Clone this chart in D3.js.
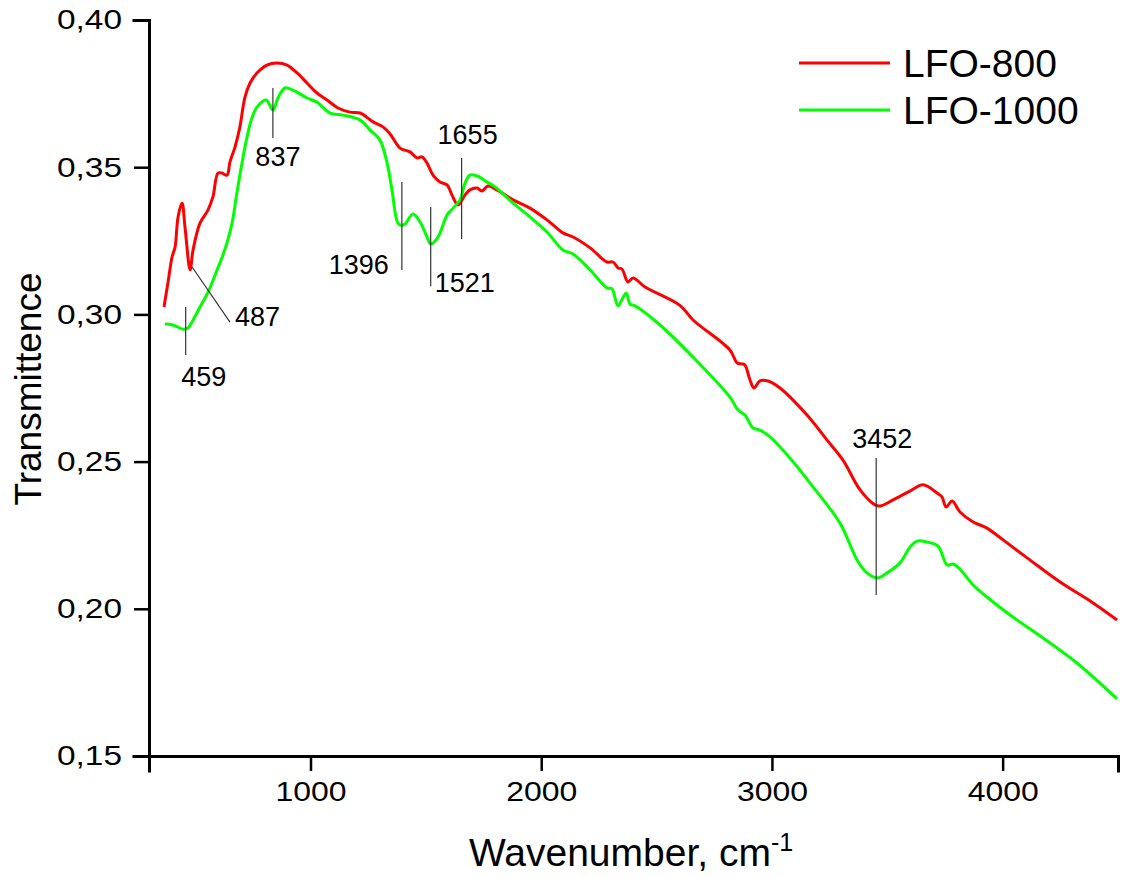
<!DOCTYPE html>
<html>
<head>
<meta charset="utf-8">
<script src="https://cdn.jsdelivr.net/npm/d3@7"></script>
<style>
  body { margin: 0; background: #fff; }
  text { font-family: "Liberation Sans", Arial, sans-serif; fill: #000; }
</style>
</head>
<body>
<svg id="chart" width="1122" height="878"></svg>
<script>
// FTIR spectra, wavenumber (cm-1) vs transmittance
var wn800 = [365, 382, 400, 413, 426, 443, 456, 478, 491, 521, 556, 577, 599, 616, 638, 651, 673, 694, 716, 738, 768, 811, 855, 898, 942, 985, 1028, 1072, 1119, 1171, 1215, 1271, 1314, 1345, 1388, 1431, 1462, 1483, 1505, 1531, 1561, 1592, 1613, 1639, 1670, 1691, 1722, 1743, 1769, 1808, 1878, 1951, 2025, 2094, 2138, 2212, 2285, 2311, 2333, 2350, 2376, 2398, 2450, 2602, 2658, 2818, 2849, 2870, 2883, 2905, 2922, 2948, 2983, 3035, 3152, 3239, 3308, 3382, 3447, 3469, 3525, 3598, 3655, 3716, 3737, 3755, 3781, 3815, 3872, 3932, 4002, 4106, 4249, 4392, 4496];
var tr800 = [0.3025, 0.3107, 0.3195, 0.3229, 0.3331, 0.3378, 0.3297, 0.3151, 0.3219, 0.3310, 0.3355, 0.3399, 0.3480, 0.3480, 0.3473, 0.3518, 0.3569, 0.3637, 0.3738, 0.3786, 0.3820, 0.3847, 0.3854, 0.3847, 0.3820, 0.3786, 0.3752, 0.3728, 0.3701, 0.3687, 0.3684, 0.3654, 0.3637, 0.3613, 0.3565, 0.3552, 0.3531, 0.3535, 0.3514, 0.3473, 0.3450, 0.3440, 0.3406, 0.3372, 0.3406, 0.3423, 0.3429, 0.3419, 0.3436, 0.3423, 0.3389, 0.3361, 0.3321, 0.3277, 0.3263, 0.3226, 0.3178, 0.3178, 0.3158, 0.3154, 0.3110, 0.3124, 0.3093, 0.3030, 0.2981, 0.2879, 0.2835, 0.2832, 0.2828, 0.2777, 0.2750, 0.2774, 0.2774, 0.2750, 0.2658, 0.2573, 0.2505, 0.2404, 0.2353, 0.2349, 0.2370, 0.2400, 0.2421, 0.2393, 0.2380, 0.2346, 0.2366, 0.2329, 0.2295, 0.2274, 0.2234, 0.2173, 0.2091, 0.2020, 0.1962];

var wn1000 = [369, 404, 447, 469, 491, 521, 556, 595, 616, 638, 660, 681, 703, 725, 746, 768, 807, 837, 859, 889, 924, 985, 1028, 1085, 1141, 1215, 1258, 1301, 1332, 1353, 1379, 1396, 1410, 1444, 1475, 1505, 1521, 1553, 1592, 1618, 1648, 1670, 1691, 1722, 1765, 1800, 1878, 1951, 2025, 2094, 2138, 2212, 2285, 2307, 2320, 2333, 2368, 2385, 2407, 2515, 2658, 2818, 2853, 2883, 2918, 2948, 2992, 3078, 3178, 3295, 3369, 3412, 3456, 3499, 3555, 3599, 3629, 3672, 3720, 3759, 3785, 3815, 3872, 3932, 4032, 4175, 4322, 4496];
var tr1000 = [0.2967, 0.2964, 0.2950, 0.2954, 0.2981, 0.3025, 0.3076, 0.3151, 0.3192, 0.3243, 0.3310, 0.3412, 0.3514, 0.3603, 0.3667, 0.3704, 0.3728, 0.3694, 0.3735, 0.3769, 0.3762, 0.3735, 0.3721, 0.3684, 0.3677, 0.3660, 0.3626, 0.3592, 0.3514, 0.3423, 0.3310, 0.3302, 0.3307, 0.3341, 0.3314, 0.3263, 0.3239, 0.3263, 0.3338, 0.3361, 0.3389, 0.3446, 0.3473, 0.3470, 0.3450, 0.3433, 0.3378, 0.3331, 0.3280, 0.3219, 0.3205, 0.3151, 0.3090, 0.3087, 0.3056, 0.3029, 0.3073, 0.3035, 0.3029, 0.2964, 0.2855, 0.2719, 0.2675, 0.2658, 0.2614, 0.2607, 0.2584, 0.2512, 0.2414, 0.2291, 0.2166, 0.2122, 0.2105, 0.2122, 0.2156, 0.2210, 0.2230, 0.2227, 0.2213, 0.2149, 0.2152, 0.2135, 0.2081, 0.2040, 0.1979, 0.1901, 0.1816, 0.1694];

var seriesNames = ["LFO-800", "LFO-1000"];
var seriesColors = ["#ff0000", "#00ff00"];

var xMajor = [1000, 2000, 3000, 4000];
var xMinor = [500, 1500, 2500, 3500, 4500];
var yMajor = [0.15, 0.20, 0.25, 0.30, 0.35, 0.40];
var yMinor = [0.175, 0.225, 0.275, 0.325, 0.375];

// peak marks: wavenumber, marker top / bottom (transmittance), label
var peakWn = [459, 837, 1396, 1521, 1655, 3452];
var peakTop = [0.3025, 0.3769, 0.3450, 0.3365, 0.3531, 0.2512];
var peakBottom = [0.2862, 0.3599, 0.3151, 0.3096, 0.3256, 0.2047];
var peakLabel = ["459", "837", "1396", "1521", "1655", "3452"];

var svg = d3.select("#chart");
var x = d3.scaleLinear().domain([300, 4500]).range([149, 1118]);
var y = d3.scaleLinear().domain([0.15, 0.40]).range([756, 20]);

var comma = function(d) { return d.toFixed(2).replace(".", ","); };

// axes
var gy = svg.append("g").attr("transform", "translate(149,0)");
gy.call(d3.axisLeft(y).tickValues(yMinor).tickSize(8).tickFormat(""));
gy.call(d3.axisLeft(y).tickValues(yMajor).tickSize(15).tickPadding(12).tickFormat(comma));
gy.selectAll(".tick text")
    .style("font-size", "28px")
    .attr("textLength", 65)
    .attr("lengthAdjust", "spacingAndGlyphs");

var gx = svg.append("g").attr("transform", "translate(0,756)");
gx.call(d3.axisBottom(x).tickValues(xMinor).tickSize(8).tickFormat(""));
gx.call(d3.axisBottom(x).tickValues(xMajor).tickSize(15).tickPadding(10).tickFormat(d3.format("d")));
gx.selectAll(".tick text")
    .style("font-size", "28px")
    .attr("textLength", 71)
    .attr("lengthAdjust", "spacingAndGlyphs");

svg.selectAll(".domain").attr("stroke-width", 3).attr("stroke-linecap", "square");
svg.selectAll(".tick line").attr("stroke-width", 2.5);

// axis titles
var xt = svg.append("text")
    .attr("x", 631).attr("y", 866)
    .attr("text-anchor", "middle")
    .style("font-size", "39px");
xt.append("tspan").text("Wavenumber, cm");
xt.append("tspan").attr("dy", -15).style("font-size", "25px").text("-1");

svg.append("text")
    .attr("transform", "translate(41,389) rotate(-90)")
    .attr("text-anchor", "middle")
    .style("font-size", "37px")
    .text("Transmittence");

// spectra
var line = d3.line()
    .x(function(d) { return x(d[0]); })
    .y(function(d) { return y(d[1]); })
    .curve(d3.curveCatmullRom);

var series = [d3.zip(wn800, tr800), d3.zip(wn1000, tr1000)];
svg.selectAll(".spectrum")
  .data(series)
  .enter().append("path")
    .attr("class", "spectrum")
    .attr("fill", "none")
    .attr("stroke", function(d, i) { return seriesColors[i]; })
    .attr("stroke-width", 3)
    .attr("stroke-linejoin", "round")
    .attr("d", line);

// peak markers
svg.selectAll(".peak")
  .data(peakWn)
  .enter().append("line")
    .attr("class", "peak")
    .attr("x1", function(d) { return x(d); })
    .attr("x2", function(d) { return x(d); })
    .attr("y1", function(d, i) { return y(peakTop[i]); })
    .attr("y2", function(d, i) { return y(peakBottom[i]); })
    .attr("stroke", "#333")
    .attr("stroke-width", 1.2);

// 487 leader line
svg.append("line")
    .attr("x1", x(487)).attr("y1", y(0.3161))
    .attr("x2", x(651)).attr("y2", y(0.2974))
    .attr("stroke", "#333").attr("stroke-width", 1.2);
svg.append("text")
    .attr("x", x(651) + 5).attr("y", y(0.2974) + 4)
    .style("font-size", "27px")
    .text("487");

// peak labels
var labelPos = [
  {dx: 18, dy: 31, anchor: "middle"},
  {dx: 5, dy: 28, anchor: "middle"},
  {dx: -13, dy: 4, anchor: "end"},
  {dx: 4, dy: 6, anchor: "start"},
  {dx: 6, dy: -14, anchor: "middle"},
  {dx: 6, dy: -10, anchor: "middle"}
];
svg.selectAll(".peakLabel")
  .data(peakWn)
  .enter().append("text")
    .attr("class", "peakLabel")
    .attr("x", function(d, i) { return x(d) + labelPos[i].dx; })
    .attr("y", function(d, i) {
      var p = labelPos[i];
      return p.dy > 0 ? y(peakBottom[i]) + p.dy : y(peakTop[i]) + p.dy;
    })
    .attr("text-anchor", function(d, i) { return labelPos[i].anchor; })
    .style("font-size", "27px")
    .text(function(d, i) { return peakLabel[i]; });

// legend
var legend = svg.selectAll(".legend")
  .data(seriesNames)
  .enter().append("g")
    .attr("class", "legend")
    .attr("transform", function(d, i) { return "translate(799," + (63 + i * 47) + ")"; });
legend.append("line")
    .attr("x1", 0).attr("x2", 91)
    .attr("stroke", function(d, i) { return seriesColors[i]; })
    .attr("stroke-width", 3);
legend.append("text")
    .attr("x", 104).attr("y", 14)
    .style("font-size", "39px")
    .text(function(d) { return d; });
</script>
</body>
</html>
